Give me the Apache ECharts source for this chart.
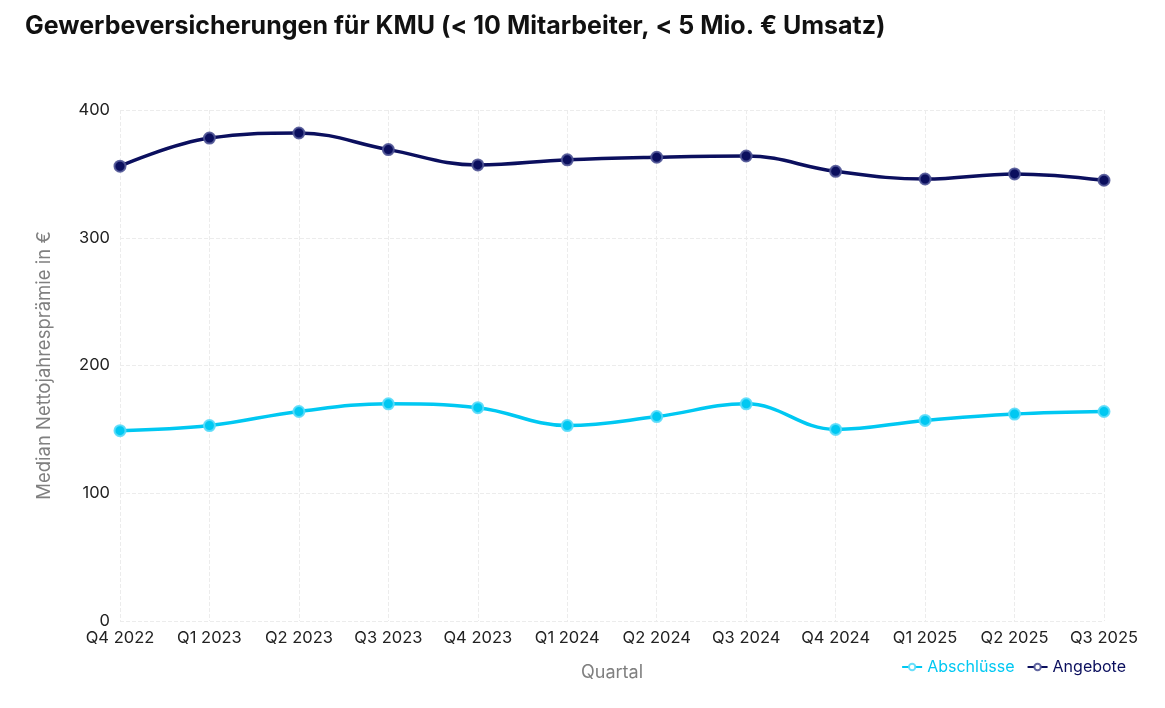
<!DOCTYPE html>
<html><head><meta charset="utf-8">
<script src="https://cdn.jsdelivr.net/npm/echarts@6/dist/echarts.min.js"></script>
<style>html,body{margin:0;padding:0;background:#fff}#c{width:1165px;height:708px}</style>
</head><body><div id="c"></div>
<script>
const categories = ['Q4 2022','Q1 2023','Q2 2023','Q3 2023','Q4 2023','Q1 2024','Q2 2024','Q3 2024','Q4 2024','Q1 2025','Q2 2025','Q3 2025'];
const abschluesse = [149,153,164,170,167,153,160,170,150,157,162,164];
const angebote = [356,378,382,369,357,361,363,364,352,346,350,345];
const yTicks = [0,100,200,300,400];

const FONT = 'Inter, Lato, sans-serif';
const chart = echarts.init(document.getElementById('c'));
chart.setOption({
  backgroundColor:'#fff',
  title:{text:'Gewerbeversicherungen für KMU (< 10 Mitarbeiter, < 5 Mio. € Umsatz)', left:20, top:9,
    textStyle:{fontFamily:FONT, fontSize:25, fontWeight:'bold', color:'#111'}},
  grid:{left:120, right:61, top:110, bottom:87},
  legend:{right:34, bottom:28, itemGap:12, itemWidth:20, itemHeight:8,
    itemStyle:{color:'#fff', borderColor:'inherit', borderWidth:2},
    textStyle:{fontFamily:FONT, fontSize:16},
    data:[{name:'Abschlüsse', textStyle:{color:'#00c8f2'}},{name:'Angebote', textStyle:{color:'#0b0f5e'}}]},
  xAxis:{type:'category', data:categories, boundaryGap:false,
    name:'Quartal', nameLocation:'middle', nameGap:43,
    nameTextStyle:{fontFamily:FONT, fontSize:18, color:'#808080'},
    axisLine:{show:false}, axisTick:{show:false},
    axisLabel:{interval:0, fontFamily:FONT, fontSize:16.5, color:'#222', margin:9},
    splitLine:{show:true, interval:0, lineStyle:{type:'dashed', color:'#ececec'}}},
  yAxis:{type:'value', min:yTicks[0], max:yTicks[yTicks.length-1], interval:100,
    name:'Median Nettojahresprämie in €', nameLocation:'middle', nameGap:66,
    nameTextStyle:{fontFamily:FONT, fontSize:18.5, color:'#808080'},
    axisLine:{show:false}, axisTick:{show:false},
    axisLabel:{fontFamily:FONT, fontSize:16.5, color:'#222', margin:10},
    splitLine:{show:true, lineStyle:{type:'dashed', color:'#ececec'}}},
  series:[
    {name:'Abschlüsse', type:'line', data:abschluesse, smooth:0.4, symbol:'circle', symbolSize:11,
      lineStyle:{width:3.5, color:'#00c8f2'},
      itemStyle:{color:'#00c8f2', borderColor:'rgba(90,220,250,0.9)', borderWidth:2}},
    {name:'Angebote', type:'line', data:angebote, smooth:0.4, symbol:'circle', symbolSize:11,
      lineStyle:{width:3.5, color:'#0b0f5e'},
      itemStyle:{color:'#0b0f5e', borderColor:'rgba(80,85,150,0.9)', borderWidth:2}}
  ]
});
</script></body></html>
